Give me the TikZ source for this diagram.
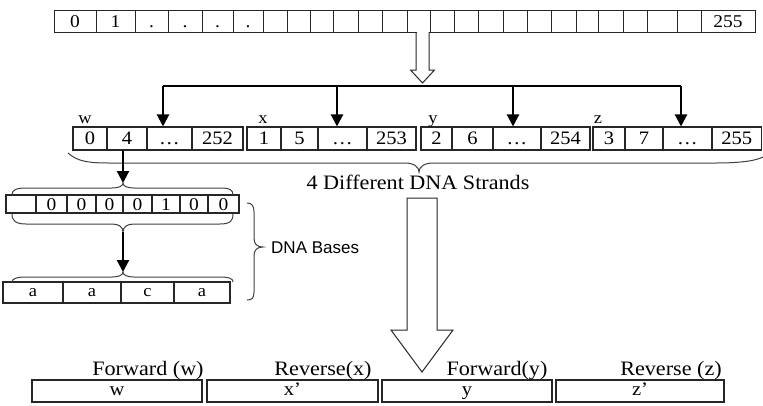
\documentclass[tikz,border=0pt]{standalone}
\usepackage{fontspec}
\setmainfont{Liberation Serif}[FakeStretch=1.08]
\newfontfamily\basesfont{Liberation Sans}
\usetikzlibrary{arrows.meta}
\tikzset{
  celltext/.style={text height=12.5bp, text depth=0.5bp},
  topcell/.style={celltext, draw=black!85, line width=0.9bp, inner sep=0pt, minimum height=22bp, font=\fontsize{18bp}{18bp}\selectfont},
  scell/.style={celltext, draw=black!85, line width=1.1bp, inner sep=0pt, minimum height=23bp, font=\fontsize{19bp}{19bp}\selectfont},
  bitcell/.style={celltext, draw=black!85, line width=1.1bp, inner sep=0pt, minimum height=18bp, font=\fontsize{18bp}{18bp}\selectfont},
  basecell/.style={text height=8bp, text depth=0bp, draw=black!85, line width=1.1bp, inner sep=0pt, minimum height=21bp, font=\fontsize{17bp}{17bp}\selectfont},
  outcell/.style={text height=9bp, text depth=0bp, draw=black!85, line width=1.6bp, inner sep=0pt, minimum height=22bp, font=\fontsize{19bp}{19bp}\selectfont},
  lbl/.style={inner sep=0pt, text height=14bp, text depth=4bp, font=\fontsize{20.5bp}{20.5bp}\selectfont},
  slbl/.style={inner sep=0pt, text height=8bp, text depth=0bp, font=\fontsize{17bp}{17bp}\selectfont},
  arr/.style={draw=black, line width=2.2bp, -{Triangle[length=12bp,width=12bp]}},
  feed/.style={draw=black, line width=2bp},
  bracestroke/.style={draw=black!75, line width=1bp},
  hollow/.style={draw=black!85, line width=1bp, fill=white, line join=miter},
}
\begin{document}
\begin{tikzpicture}[x=1bp,y=-1bp]
\useasboundingbox (0,0) rectangle (763,405);

% top row 0..255
\foreach \a/\b/\t [count=\i] in {54/96/0,96/135/1,135/168/.,168/202/.,202/233/.,233/263/.,263/287/{},287/310/{},310/333/{},333/358/{},358/382/{},382/407/{},407/430/{},430/454/{},454/478/{},478/503/{},503/527/{},527/551/{},551/576/{},576/598/{},598/623/{},623/647/{},647/677/{},677/701/{},701/755/255}
  \node[topcell, minimum width={(\b-\a)*1bp}] (t\i) at ({(\a+\b)/2},21) {\t};

% small hollow arrow
\fill[white] (416.5,31) rectangle (428.5,71);
\draw[hollow, fill=none] (416,32) -- (416,70) -- (410.5,70) -- (422.5,83) -- (434.5,70) -- (429,70) -- (429,32);

% strands
\foreach \a/\b/\t [count=\i] in {73/107/0,107/147/4,147/192/…,192/243/252}
  \node[scell, minimum width={(\b-\a)*1bp}] (w\i) at ({(\a+\b)/2},138.5) {\t};
\foreach \a/\b/\t [count=\i] in {247/281/1,281/318/5,318/367/…,367/416/253}
  \node[scell, minimum width={(\b-\a)*1bp}] (x\i) at ({(\a+\b)/2},138.5) {\t};
\foreach \a/\b/\t [count=\i] in {421/452/2,452/493/6,493/541/…,541/590/254}
  \node[scell, minimum width={(\b-\a)*1bp}] (y\i) at ({(\a+\b)/2},138.5) {\t};
\foreach \a/\b/\t [count=\i] in {593/625/3,625/663/7,663/712/…,712/761.5/255}
  \node[scell, minimum width={(\b-\a)*1bp}] (z\i) at ({(\a+\b)/2},138.5) {\t};

\node[slbl] (lw) at (85,119) {w};
\node[slbl] (lx) at (263,119) {x};
\node[slbl] (ly) at (433,119) {y};
\node[slbl] (lz) at (598,119) {z};

% distribution
\coordinate (d1) at (163,86);
\coordinate (d2) at (337,86);
\coordinate (d3) at (513,86);
\coordinate (d4) at (681,86);
\draw[feed] (d1) -- (d4);
\draw[arr] (d1) -- (d1 |- w3.north);
\draw[arr] (d2) -- (d2 |- x3.north);
\draw[arr] (d3) -- (d3 |- y3.north);
\draw[arr] (d4) -- (d4 |- z3.north);

% big brace under strands
\draw[bracestroke] (68,153) .. controls (78,162) and (90,163) .. (110,163) -- (405,163) .. controls (414,163) and (419,167) .. (419,172) .. controls (419,167) and (424,163) .. (433,163) -- (715,163) .. controls (740,163) and (755,161) .. (763,157);
\node[lbl] (strands) at (418,184) {4 Different DNA Strands};

% bits
\foreach \a/\b/\t [count=\i] in {6/36/{},36/67/0,67/96/0,96/123/0,123/152/0,152/180/1,180/208/0,208/239/0}
  \node[bitcell, minimum width={(\b-\a)*1bp}] (b\i) at ({(\a+\b)/2},204) {\t};

% bases
\foreach \a/\b/\t [count=\i] in {3/63/a,63/121/a,121/174/c,174/230/a}
  \node[basecell, minimum width={(\b-\a)*1bp}] (a\i) at ({(\a+\b)/2},292.5) {\t};

% braces around bits
\coordinate (ax) at (123,0);
\coordinate (tipA) at (123,183);
\coordinate (tipB) at (123,232);
\coordinate (tipC) at (123,272);
\draw[bracestroke] (12,195) .. controls (12,190) and (16,188) .. (26,188) -- (112,188) .. controls (119,188) and (123,186) .. (tipA) .. controls (123,186) and (127,188) .. (134,188) -- (220,188) .. controls (230,188) and (233,190) .. (233,195);
\draw[bracestroke] (12,214) .. controls (12,221) and (16,224) .. (26,224) -- (112,224) .. controls (119,224) and (123,227) .. (tipB) .. controls (123,227) and (127,224) .. (134,224) -- (220,224) .. controls (230,224) and (233,221) .. (233,214);
\draw[bracestroke] (12,282) .. controls (12,279) and (16,277) .. (26,277) -- (112,277) .. controls (119,277) and (123,275) .. (tipC) .. controls (123,275) and (127,277) .. (134,277) -- (220,277) .. controls (230,277) and (233,279) .. (233,282);
\draw[arr] (ax |- w2.south) -- (tipA);
\draw[arr] (tipB) -- (tipC);

% right brace DNA Bases
\draw[bracestroke] (247,203) .. controls (252,203) and (254,206) .. (254,212) -- (254,238) .. controls (254,244) and (257,247) .. (263,247) .. controls (257,247) and (254,250) .. (254,256) -- (254,292) .. controls (254,298) and (252,300) .. (247,300);
\node[anchor=west, inner sep=0pt, text height=12bp, text depth=0bp, font=\basesfont\fontsize{17bp}{17bp}\selectfont] (bases) at (271,247) {DNA Bases};

% big hollow arrow
\draw[hollow] (407,198) -- (437,198) -- (437,330) -- (453,330) -- (422,372) -- (391,330) -- (407,330) -- cycle;

% output row
\node[outcell, minimum width=170bp] (o1) at (117,391) {w};
\node[outcell, minimum width=171bp] (o2) at (292.5,391) {x’};
\node[outcell, minimum width=170bp] (o3) at (467,391) {y};
\node[outcell, minimum width=168bp] (o4) at (640,391) {z’};
\node[lbl] (f1) at (148,370) {Forward (w)};
\node[lbl] (f2) at (323,370) {Reverse(x)};
\node[lbl] (f3) at (497,370) {Forward(y)};
\node[lbl] (f4) at (671,370) {Reverse (z)};
\end{tikzpicture}
\end{document}
